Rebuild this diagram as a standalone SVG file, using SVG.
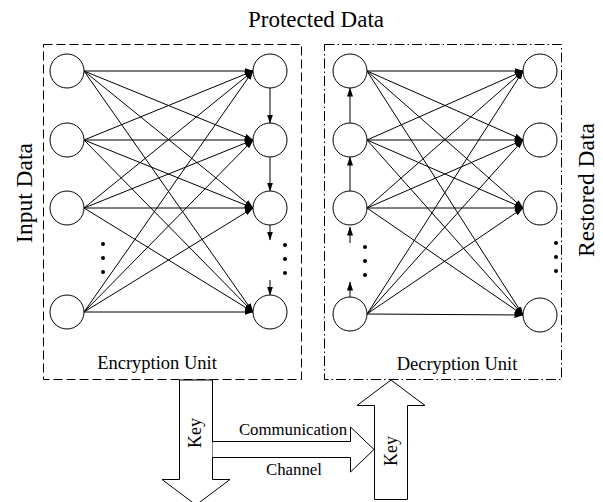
<svg xmlns="http://www.w3.org/2000/svg" width="603" height="502" viewBox="0 0 603 502">
<style>
.t{font-family:"Liberation Serif","Times New Roman",serif;fill:#000}
.c{fill:#fff;stroke:#000;stroke-width:1}
.l{stroke:#000;stroke-width:1;fill:none}
.a{stroke:#000;stroke-width:1;fill:none;marker-end:url(#ah)}
.box{fill:none;stroke:#000;stroke-width:1}
.d{fill:#000}
.big{fill:#fff;stroke:#000;stroke-width:1}
</style>
<defs>
<marker id="ah" markerWidth="9" markerHeight="7" refX="8.5" refY="3.5" orient="auto" markerUnits="userSpaceOnUse">
<path d="M0,0.5 L9,3.5 L0,6.5 z" fill="#000"/>
</marker>
</defs>
<rect fill="#fff" x="0" y="0" width="603" height="502"/>

<text class="t" x="316" y="27" font-size="23" text-anchor="middle">Protected Data</text>
<text class="t" font-size="23.5" text-anchor="middle" transform="translate(32,193) rotate(-90)">Input Data</text>
<text class="t" font-size="23.5" text-anchor="middle" transform="translate(594,190) rotate(-90)">Restored Data</text>

<g id="encryption-unit">
<rect class="box" x="43.5" y="44.5" width="258" height="335" stroke-dasharray="9 4"/>
<text class="t" x="157" y="369" font-size="18.5" text-anchor="middle">Encryption Unit</text>
</g>
<g id="decryption-unit">
<rect class="box" x="324.5" y="44.5" width="237" height="335" stroke-dasharray="10 3 1.5 3"/>
<text class="t" x="457" y="370" font-size="18.5" text-anchor="middle">Decryption Unit</text>
</g>

<g id="connectors">
<!-- encryption full connections -->
<line class="a" x1="84" y1="71" x2="253" y2="71"/>
<line class="a" x1="84" y1="71" x2="253" y2="140"/>
<line class="a" x1="84" y1="71" x2="253" y2="208"/>
<line class="a" x1="84" y1="71" x2="253" y2="312"/>
<line class="a" x1="84" y1="140" x2="253" y2="71"/>
<line class="a" x1="84" y1="140" x2="253" y2="140"/>
<line class="a" x1="84" y1="140" x2="253" y2="208"/>
<line class="a" x1="84" y1="140" x2="253" y2="312"/>
<line class="a" x1="84" y1="208" x2="253" y2="71"/>
<line class="a" x1="84" y1="208" x2="253" y2="140"/>
<line class="a" x1="84" y1="208" x2="253" y2="208"/>
<line class="a" x1="84" y1="208" x2="253" y2="312"/>
<line class="a" x1="84" y1="312" x2="253" y2="71"/>
<line class="a" x1="84" y1="312" x2="253" y2="140"/>
<line class="a" x1="84" y1="312" x2="253" y2="208"/>
<line class="a" x1="84" y1="312" x2="253" y2="312"/>
<!-- encryption vertical -->
<line class="a" x1="270" y1="88" x2="270" y2="123"/>
<line class="a" x1="270" y1="157" x2="270" y2="191"/>
<line class="a" x1="270" y1="225" x2="270" y2="240"/>
<line class="a" x1="270" y1="280" x2="270" y2="295"/>
<!-- decryption full connections -->
<line class="a" x1="367" y1="71" x2="523" y2="71"/>
<line class="a" x1="367" y1="71" x2="523" y2="140"/>
<line class="a" x1="367" y1="71" x2="523" y2="208"/>
<line class="a" x1="367" y1="71" x2="523" y2="315"/>
<line class="a" x1="367" y1="140" x2="523" y2="71"/>
<line class="a" x1="367" y1="140" x2="523" y2="140"/>
<line class="a" x1="367" y1="140" x2="523" y2="208"/>
<line class="a" x1="367" y1="140" x2="523" y2="315"/>
<line class="a" x1="367" y1="208" x2="523" y2="71"/>
<line class="a" x1="367" y1="208" x2="523" y2="140"/>
<line class="a" x1="367" y1="208" x2="523" y2="208"/>
<line class="a" x1="367" y1="208" x2="523" y2="315"/>
<line class="a" x1="367" y1="314" x2="523" y2="71"/>
<line class="a" x1="367" y1="314" x2="523" y2="140"/>
<line class="a" x1="367" y1="314" x2="523" y2="208"/>
<line class="a" x1="367" y1="314" x2="523" y2="315"/>
<!-- decryption vertical -->
<line class="a" x1="350" y1="123" x2="350" y2="88"/>
<line class="a" x1="350" y1="191" x2="350" y2="157"/>
<line class="a" x1="350" y1="243" x2="350" y2="227"/>
<line class="a" x1="350" y1="297" x2="350" y2="282"/>
</g>

<g id="ellipsis">
<circle class="d" cx="103" cy="244" r="2"/>
<circle class="d" cx="103" cy="258" r="2"/>
<circle class="d" cx="103" cy="272" r="2"/>
<circle class="d" cx="285" cy="245" r="2"/>
<circle class="d" cx="285" cy="259" r="2"/>
<circle class="d" cx="285" cy="273" r="2"/>
<circle class="d" cx="365" cy="247" r="2"/>
<circle class="d" cx="365" cy="261" r="2"/>
<circle class="d" cx="365" cy="275" r="2"/>
<circle class="d" cx="556" cy="243" r="2"/>
<circle class="d" cx="556" cy="257" r="2"/>
<circle class="d" cx="556" cy="271" r="2"/>
</g>

<g id="enc-in-1"><circle class="c" cx="67" cy="71" r="17"/></g>
<g id="enc-in-2"><circle class="c" cx="67" cy="140" r="17"/></g>
<g id="enc-in-3"><circle class="c" cx="67" cy="208" r="17"/></g>
<g id="enc-in-4"><circle class="c" cx="67" cy="312" r="17"/></g>
<g id="enc-out-1"><circle class="c" cx="270" cy="71" r="17"/></g>
<g id="enc-out-2"><circle class="c" cx="270" cy="140" r="17"/></g>
<g id="enc-out-3"><circle class="c" cx="270" cy="208" r="17"/></g>
<g id="enc-out-4"><circle class="c" cx="270" cy="312" r="17"/></g>
<g id="dec-in-1"><circle class="c" cx="350" cy="71" r="17"/></g>
<g id="dec-in-2"><circle class="c" cx="350" cy="140" r="17"/></g>
<g id="dec-in-3"><circle class="c" cx="350" cy="208" r="17"/></g>
<g id="dec-in-4"><circle class="c" cx="350" cy="314" r="17"/></g>
<g id="dec-out-1"><circle class="c" cx="540" cy="71" r="17"/></g>
<g id="dec-out-2"><circle class="c" cx="540" cy="140" r="17"/></g>
<g id="dec-out-3"><circle class="c" cx="540" cy="208" r="17"/></g>
<g id="dec-out-4"><circle class="c" cx="540" cy="315" r="17"/></g>

<g id="key-down">
<path class="big" d="M179.5,380 L212.5,380 L212.5,479.5 L230,479.5 L196,505 L162,479.5 L179.5,479.5 Z"/>
<text class="t" font-size="18" text-anchor="middle" transform="translate(201,433) rotate(-90)">Key</text>
</g>
<g id="channel">
<path class="big" d="M212.5,441.5 L350.5,441.5 L350.5,427 L374,449.5 L350.5,472 L350.5,457.5 L212.5,457.5"/>
<text class="t" x="293" y="435" font-size="16.8" text-anchor="middle">Communication</text>
<text class="t" x="294" y="475" font-size="16.8" text-anchor="middle">Channel</text>
</g>
<g id="key-up">
<path class="big" d="M374.5,499.5 L374.5,405.5 L357,405.5 L391,380 L425,405.5 L407.5,405.5 L407.5,499.5 Z"/>
<text class="t" font-size="18" text-anchor="middle" transform="translate(397,451) rotate(-90)">Key</text>
</g>
</svg>
